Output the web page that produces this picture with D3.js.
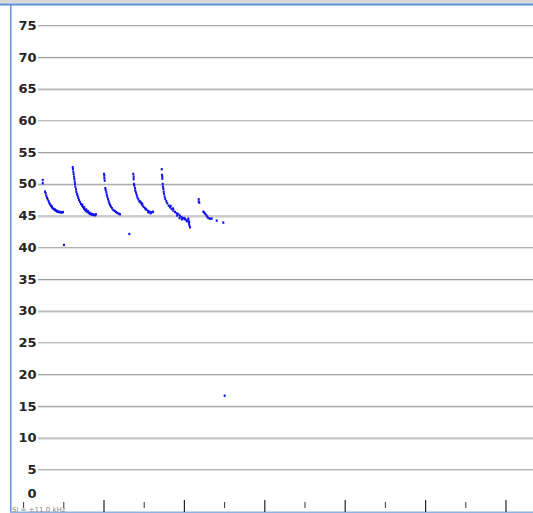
<!DOCTYPE html>
<html><head><meta charset="utf-8">
<script src="https://cdn.jsdelivr.net/npm/d3@7/dist/d3.min.js"></script>
<style>html,body{margin:0;padding:0;background:#fff;overflow:hidden}</style>
</head><body><svg id="c" width="533" height="513"></svg>
<script>
// ---- data ----
const yTicks = [0,5,10,15,20,25,30,35,40,45,50,55,60,65,70,75];
const xMajorTicks = [10,20,30,40,50,60];
const xMinorTicks = [0,5,15,25,35,45,55];
const footerLabel = "Sl = \u00b111.0 kHz";

const sweep1 = [[2.38,50.6],[2.38,50.09],[2.66,48.76],[2.75,48.5],[2.82,48.13],[2.91,47.8],[3.0,47.55],[3.12,47.24],[3.2,46.97],[3.28,46.76],[3.41,46.54],[3.5,46.45],[3.53,46.33],[3.62,46.13],[3.78,46.02],[3.85,46.0],[3.91,45.86],[4.0,45.8],[4.12,45.75],[4.2,45.6],[4.32,45.6],[4.4,45.55],[4.53,45.56],[4.65,45.5],[4.78,45.5],[4.9,45.55]];
const sweep2 = [[6.11,52.61],[6.14,52.34],[6.18,51.92],[6.23,51.55],[6.27,51.13],[6.31,50.76],[6.36,50.34],[6.39,49.98],[6.43,49.55],[6.52,49.14],[6.55,48.76],[6.64,48.4],[6.73,48.08],[6.8,47.77],[6.89,47.45],[7.01,47.14],[7.14,46.82],[7.26,46.56],[7.3,46.7],[7.39,46.35],[7.51,46.08],[7.55,46.3],[7.64,45.88],[7.76,45.72],[7.8,45.95],[7.92,45.56],[8.0,45.7],[8.1,45.4],[8.2,45.45],[8.26,45.25],[8.4,45.3],[8.47,45.14],[8.6,45.2],[8.67,45.09],[8.8,45.1],[8.92,45.04],[9.0,45.2]];
const sweep3 = [[10.0,51.55],[10.04,51.29],[10.04,50.88],[10.09,50.5],[10.16,49.3],[10.21,49.03],[10.29,48.67],[10.34,48.29],[10.41,47.97],[10.5,47.61],[10.58,47.25],[10.66,46.93],[10.75,46.67],[10.87,46.4],[11.0,46.15],[11.16,45.88],[11.33,45.72],[11.49,45.56],[11.65,45.4],[11.83,45.3],[11.99,45.2]];
const sweep4 = [[13.64,51.55],[13.69,51.13],[13.69,50.72],[13.73,49.98],[13.77,49.71],[13.86,49.3],[13.89,48.92],[13.98,48.61],[14.07,48.24],[14.14,47.88],[14.27,47.57],[14.39,47.25],[14.5,47.2],[14.56,47.03],[14.69,46.78],[14.75,46.9],[14.81,46.56],[14.94,46.35],[15.1,46.15],[15.2,46.0],[15.31,45.88],[15.5,45.5],[15.51,45.72],[15.72,45.56],[15.8,45.35],[15.93,45.51],[16.1,45.6]];
const sweep5 = [[17.18,52.29],[17.21,51.4],[17.25,51.13],[17.25,50.81],[17.3,49.98],[17.34,49.55],[17.38,49.19],[17.43,48.76],[17.46,48.4],[17.55,47.97],[17.62,47.61],[17.75,47.25],[17.87,46.93],[18.05,46.56],[18.21,46.3],[18.3,46.5],[18.42,46.04],[18.6,46.1],[18.62,45.77],[18.83,45.56],[19.04,45.36],[19.1,45.0],[19.24,45.2],[19.4,44.6],[19.45,44.98],[19.66,44.73],[19.7,44.4],[19.86,44.57],[20.0,44.6],[20.07,44.41],[20.29,44.3],[20.3,44.1],[20.49,44.14],[20.5,44.5],[20.57,43.78],[20.6,44.0],[20.61,43.47],[20.7,43.15]];
const sweep6 = [[21.78,47.56],[21.78,47.19],[21.85,47.03],[22.35,45.61],[22.48,45.45],[22.6,45.25],[22.73,45.04],[22.85,44.82],[22.97,44.61],[23.18,44.51],[23.4,44.51],[24.02,44.19],[24.84,43.88]];
const outliers = [[5.02,40.36],[13.15,42.09],[25.01,16.6]];

// ---- drawing ----
const W = 533, H = 513;
const svg = d3.select("#c");
const x = d3.scaleLinear().domain([0, 63.36]).range([23.6, 533]);
const y = d3.scaleLinear().domain([0, 75]).range([501, 25.2]);

// frame
svg.append("rect").attr("x",0).attr("y",0).attr("width",W).attr("height",3.5).attr("fill","#d9d9d9");
svg.append("line").attr("x1",0).attr("x2",W).attr("y1",4.5).attr("y2",4.5).attr("stroke","#5b8fd5").attr("stroke-width",2);
svg.append("line").attr("x1",10.8).attr("x2",10.8).attr("y1",4).attr("y2",H).attr("stroke","#6d9bd8").attr("stroke-width",1.6);
svg.append("line").attr("x1",10).attr("x2",W).attr("y1",512.3).attr("y2",512.3).attr("stroke","#8fb3e2").attr("stroke-width",1.4);

// y axis with gridlines
const gy = svg.append("g").attr("transform","translate(38,0)")
  .call(d3.axisLeft(y).tickValues(yTicks).tickSize(-(W-38)).tickPadding(1.5).tickFormat(d3.format("d")));
gy.select(".domain").remove();
gy.selectAll(".tick line").attr("stroke","#9a9a9a").attr("stroke-width",1);
gy.selectAll(".tick").filter(d => d === 0).select("line").remove();
gy.selectAll(".tick").filter(d => d === 0).select("text").attr("dy","-0.25em");
gy.selectAll(".tick text").attr("fill","#262626").style("font-family","'DejaVu Sans', Verdana, sans-serif")
  .style("font-size","13px").style("font-weight","bold");
// soft shadow under gridlines
svg.append("g").selectAll("line").data(yTicks.filter(d => d > 0)).join("line")
  .attr("x1",38).attr("x2",W).attr("y1",d => Math.round(y(d))+1.5).attr("y2",d => Math.round(y(d))+1.5)
  .attr("stroke","#e2e2e2").attr("stroke-width",1);

// x ticks
svg.append("g").selectAll("line").data(xMajorTicks).join("line")
  .attr("x1",d => x(d)).attr("x2",d => x(d)).attr("y1",500).attr("y2",512)
  .attr("stroke","#222").attr("stroke-width",1.2);
svg.append("g").selectAll("line").data(xMinorTicks).join("line")
  .attr("x1",d => x(d)).attr("x2",d => x(d)).attr("y1",502).attr("y2",508)
  .attr("stroke","#333").attr("stroke-width",1);

svg.append("text").attr("x",12).attr("y",511.5).text(footerLabel)
  .attr("fill","#8a8a8a").style("font-family","'DejaVu Sans', Verdana, sans-serif").style("font-size","7px");

// points
const all = [].concat(sweep1, sweep2, sweep3, sweep4, sweep5, sweep6, outliers);
svg.append("g").selectAll("rect").data(all).join("rect")
  .attr("x", d => x(d[0]) - 1).attr("y", d => y(d[1]) - 1.2)
  .attr("width", 2).attr("height", 2.4).attr("fill", "#1414ee");
</script>
</body></html>
